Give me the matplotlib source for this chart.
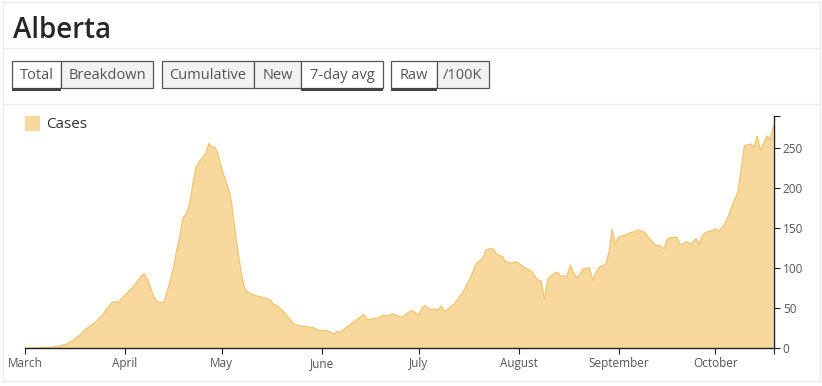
import matplotlib
matplotlib.use("Agg")
import matplotlib.pyplot as plt
from matplotlib.patches import Rectangle
from matplotlib.lines import Line2D
import pandas as pd

# ---- data (7-day average of new cases, Alberta, 2020) ----
mar = [0, 0, 0, 0, 0.3, 0.5, 0.7, 1, 1, 1.5, 2, 3, 4, 5, 8, 10, 13, 16, 20, 24,
       27, 30, 33, 37, 41, 47, 52, 57, 58, 57, 62]
apr = [66, 70, 74, 79, 84, 90, 93, 85, 74, 64, 58, 57, 57, 70, 84, 100, 122, 140,
       163, 168, 180, 205, 226, 233, 238, 243, 256, 251, 251, 240]
may = [223, 212, 200, 183, 150, 122, 95, 76, 70, 68, 66, 65, 64, 63, 62, 60, 55,
       53, 50, 46, 41, 37, 31, 29, 28, 27, 27, 26, 26, 24, 22]
jun = [22, 22, 21, 19, 18, 21, 20, 24, 27, 30, 33, 36, 39, 42, 36, 36, 37, 37, 39,
       41, 40, 41, 43, 41, 39, 39, 42, 45, 47, 44]
jul = [41, 50, 53, 50, 48, 49, 47, 53, 46, 48, 52, 55, 60, 66, 72, 80, 87, 97,
       106, 109, 113, 123, 124, 124, 118, 116, 114, 108, 107, 106, 108]
aug = [106, 103, 100, 98, 96, 90, 85, 84, 61, 86, 90, 93, 95, 90, 90, 90, 104, 95,
       88, 92, 99, 100, 100, 85, 95, 101, 103, 104, 120, 149, 130]
sep = [139, 140, 141, 143, 145, 145, 148, 146, 145, 140, 135, 130, 128, 128, 124,
       135, 138, 138, 139, 130, 130, 133, 130, 132, 137, 130, 141, 144, 146, 147]
oct_ = [149, 146, 150, 156, 165, 176, 186, 195, 225, 253, 254, 255, 251, 265, 247,
        256, 265, 261, 277]
cases = mar + apr + may + jun + jul + aug + sep + oct_
start_date = "2020-03-01"
month_labels = ["March", "April", "May", "June", "July", "August", "September", "October"]
y_ticks = [0, 50, 100, 150, 200, 250]
y_max = 290
series_name = "Cases"
region = "Alberta"
buttons = [["Total", "Breakdown"], ["Cumulative", "New", "7-day avg"], ["Raw", "/100K"]]

dates = pd.date_range(start_date, periods=len(cases), freq="D")

W, H = 822, 386
fig = plt.figure(figsize=(W / 100, H / 100), dpi=100)
fig.patch.set_facecolor("white")
FONT = ["Open Sans", "DejaVu Sans"]


def fx(px):
    return px / W


def fy(py):
    return 1 - py / H


# card borders / separators
for y in (2, 48, 104, 381):
    fig.add_artist(Line2D([fx(3), fx(820)], [fy(y), fy(y)], color="#ececec", lw=1))
fig.add_artist(Line2D([fx(3), fx(3)], [fy(2), fy(381)], color="#ececec", lw=1))
fig.add_artist(Line2D([fx(820), fx(820)], [fy(2), fy(381)], color="#ececec", lw=1))

# title
fig.text(fx(13), fy(30), region, fontsize=20, fontweight="semibold", color="#262626",
         family=FONT, va="center", ha="left")

# buttons
btn_geom = [[(12, 61, True), (61, 153, False)],
            [(162, 254, False), (254, 301, False), (301, 383, True)],
            [(391, 437, True), (437, 489, False)]]
by0, by1 = 61, 88
for grp, geo in zip(buttons, btn_geom):
    for label, (x0, x1, active) in zip(grp, geo):
        fig.add_artist(Rectangle((fx(x0), fy(by1)), fx(x1 - x0), (by1 - by0) / H,
                                 facecolor="white" if active else "#f2f2f2",
                                 edgecolor="#555555", lw=0.9))
        if active:
            fig.add_artist(Rectangle((fx(x0), fy(by1 + 3)), fx(x1 - x0), 3 / H,
                                     facecolor="#444444", edgecolor="none"))
        fig.text(fx((x0 + x1) / 2), fy((by0 + by1) / 2 + 1), label, fontsize=10.5,
                 color="#555555", family=FONT, ha="center", va="center")

# legend
fig.add_artist(Rectangle((fx(25), fy(131)), fx(15), 15 / H, facecolor="#f9d89d",
                         edgecolor="none"))
fig.text(fx(46), fy(124), series_name, fontsize=11, color="#333333", family=FONT,
         ha="left", va="center")

# plot area
ax = fig.add_axes([fx(25), fy(348), fx(774 - 25), (348 - 116) / H])
ax.set_facecolor("none")
ax.fill_between(dates, cases, 0, facecolor="#f9d89d", edgecolor="none")
ax.plot(dates, cases, color="#eec36e", lw=0.8)
end_date = dates[-1] + pd.Timedelta(hours=4)
ax.set_xlim(dates[0], end_date)
ax.set_ylim(0, y_max)

for s in ("top", "left"):
    ax.spines[s].set_visible(False)
ax.spines["right"].set_color("#222222")
ax.spines["bottom"].set_color("#222222")
ax.spines["right"].set_linewidth(1)
ax.spines["bottom"].set_linewidth(1)

month_starts = pd.date_range(start_date, periods=len(month_labels), freq="MS")
ax.set_xticks(month_starts)
ax.set_xticklabels(month_labels)
ax.set_xticks([end_date], minor=True)
ax.yaxis.tick_right()
ax.set_yticks(y_ticks)
ax.set_yticks([y_max], minor=True)
ax.tick_params(axis="both", which="both", length=4.3, width=0.8, color="#222222",
               labelcolor="#555555")
ax.tick_params(axis="x", labelsize=8.5, pad=2)
ax.tick_params(axis="y", labelsize=8.5, pad=2)
for lab in ax.get_xticklabels() + ax.get_yticklabels():
    lab.set_family(FONT)

fig.savefig("out.png", dpi=100)
